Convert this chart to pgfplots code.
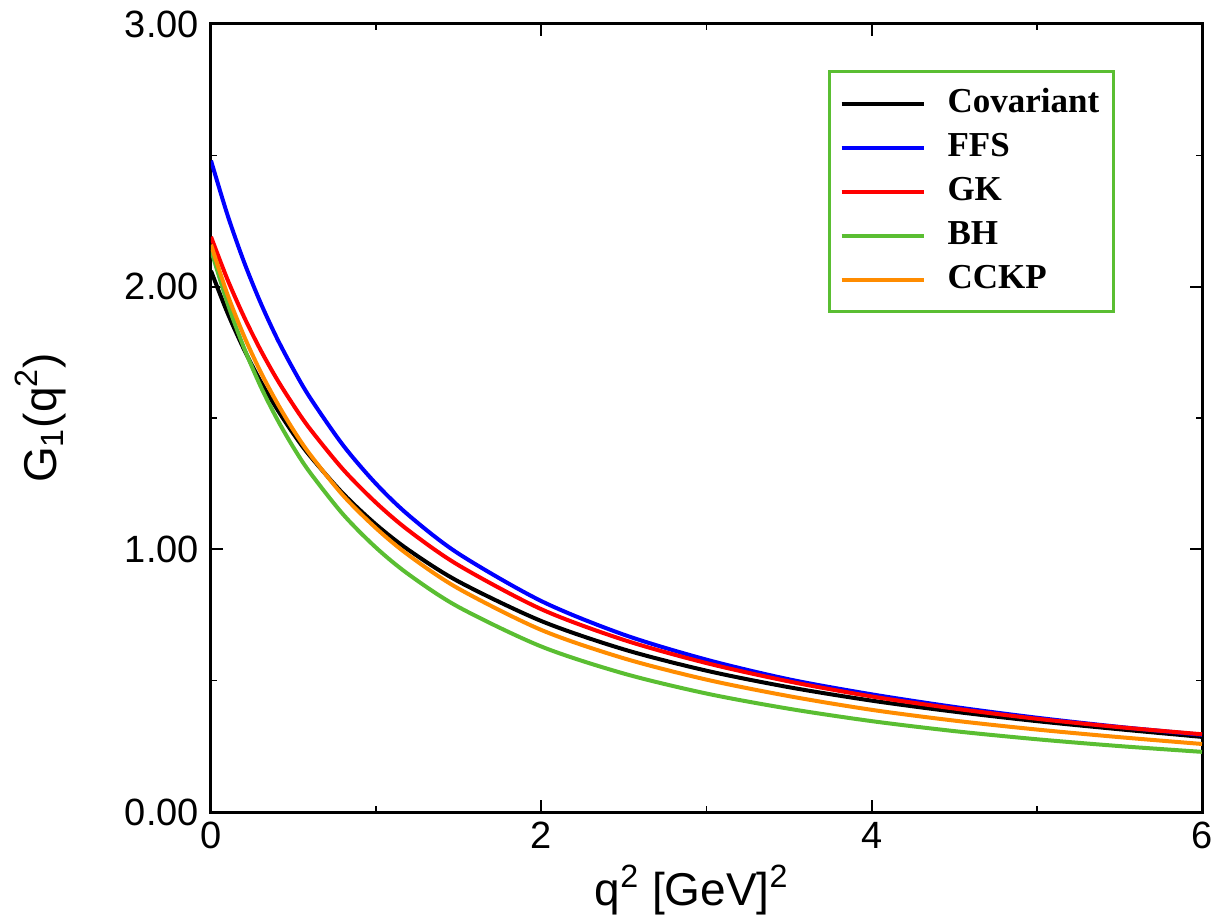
\documentclass[border=0pt]{standalone}
\usepackage{pgfplots}
\pgfplotsset{compat=1.18}
\usepackage{fontspec}
\setmainfont{Liberation Sans}
\newfontfamily\legfont{Liberation Serif}
\definecolor{bhgreen}{RGB}{90,190,50}
\definecolor{cckp}{RGB}{255,140,0}

\pgfplotstableread{
q G
0 2.06
0.1 1.900
0.2 1.761
0.3 1.640
0.4 1.534
0.5 1.439
0.6 1.355
0.8 1.212
1.0 1.094
1.2 0.996
1.5 0.877
2.0 0.727
2.5 0.619
3.0 0.538
3.5 0.475
4.0 0.424
4.5 0.382
5.0 0.346
5.5 0.315
6.0 0.286
}\cov
\pgfplotstableread{
q G
0 2.48
0.1 2.273
0.2 2.094
0.3 1.939
0.4 1.803
0.5 1.684
0.6 1.577
0.8 1.396
1.0 1.249
1.2 1.128
1.5 0.983
2.0 0.803
2.5 0.675
3.0 0.580
3.5 0.505
4.0 0.448
4.5 0.400
5.0 0.359
5.5 0.324
6.0 0.294
}\ffs
\pgfplotstableread{
q G
0 2.19
0.1 2.027
0.2 1.885
0.3 1.759
0.4 1.647
0.5 1.548
0.6 1.458
0.8 1.304
1.0 1.177
1.2 1.070
1.5 0.939
2.0 0.772
2.5 0.655
3.0 0.567
3.5 0.497
4.0 0.440
4.5 0.394
5.0 0.355
5.5 0.323
6.0 0.296
}\gk
\pgfplotstableread{
q G
0 2.14
0.1 1.937
0.2 1.767
0.3 1.621
0.4 1.496
0.5 1.387
0.6 1.292
0.8 1.133
1.0 1.006
1.2 0.903
1.5 0.780
2.0 0.630
2.5 0.527
3.0 0.451
3.5 0.393
4.0 0.346
4.5 0.308
5.0 0.277
5.5 0.251
6.0 0.229
}\bh
\pgfplotstableread{
q G
0 2.16
0.1 1.970
0.2 1.812
0.3 1.676
0.4 1.558
0.5 1.453
0.6 1.361
0.8 1.205
1.0 1.080
1.2 0.976
1.5 0.850
2.0 0.693
2.5 0.585
3.0 0.504
3.5 0.441
4.0 0.389
4.5 0.348
5.0 0.314
5.5 0.285
6.0 0.259
}\cckp

\begin{document}
\begin{tikzpicture}
\begin{axis}[
  name=ax, at={(0,0)}, anchor=south west,
  width=495.5pt, height=394pt, scale only axis,
  xmin=0, xmax=6, ymin=0, ymax=3,
  xtick={0,2,4,6}, ytick={0,1,2,3},
  minor xtick={1,3,5}, minor ytick={0.5,1.5,2.5},
  tick align=inside, major tick length=6pt, minor tick length=3pt,
  every major tick/.append style={black, line width=1pt},
  every minor tick/.append style={black, line width=0.7pt},
  axis line style={line width=1.5pt},
  /pgf/number format/assume math mode=true,
  tick label style={font=\fontsize{19}{21}\selectfont},
  y tick label style={xshift=-2.5pt, /pgf/number format/fixed, /pgf/number format/fixed zerofill, /pgf/number format/precision=2},
  x tick label style={yshift=-1.5pt},
  xlabel={q\textsuperscript{2} [GeV]\textsuperscript{2}},
  ylabel={G\textsubscript{1}(q\textsuperscript{2})},
  label style={font=\fontsize{23}{26}\selectfont},
  xlabel style={at={(axis description cs:0.485,-0.099)}, anchor=center},
  ylabel style={at={(axis description cs:-0.172,0.5)}, anchor=center},
  legend style={at={(0.6226,0.9416)}, anchor=north west, draw=bhgreen, line width=1.5pt,
    font=\fontsize{17.5}{21}\selectfont\legfont\bfseries,
    inner xsep=5pt, inner ysep=6pt, row sep=2pt,
    nodes={inner sep=2pt, text height=12.5pt, text depth=3.5pt},
    /tikz/every odd column/.style={column sep=9pt}},
  legend cell align=left,
  legend image code/.code={\draw[#1, line width=2pt] (0pt,0pt) -- (41pt,0pt);},
]
\addplot[black, line width=2pt, smooth] table[x=q, y=G] {\cov};
\addlegendentry{Covariant}
\addplot[blue, line width=2pt, smooth] table[x=q, y=G] {\ffs};
\addlegendentry{FFS}
\addplot[red, line width=2pt, smooth] table[x=q, y=G] {\gk};
\addlegendentry{GK}
\addplot[bhgreen, line width=2pt, smooth] table[x=q, y=G] {\bh};
\addlegendentry{BH}
\addplot[cckp, line width=2pt, smooth] table[x=q, y=G] {\cckp};
\addlegendentry{CCKP}
\end{axis}
\pgfresetboundingbox
\path[use as bounding box] ([shift={(-105.5pt,-51.5pt)}]ax.south west) rectangle ([shift={(7.5pt,12pt)}]ax.north east);
\end{tikzpicture}
\end{document}
